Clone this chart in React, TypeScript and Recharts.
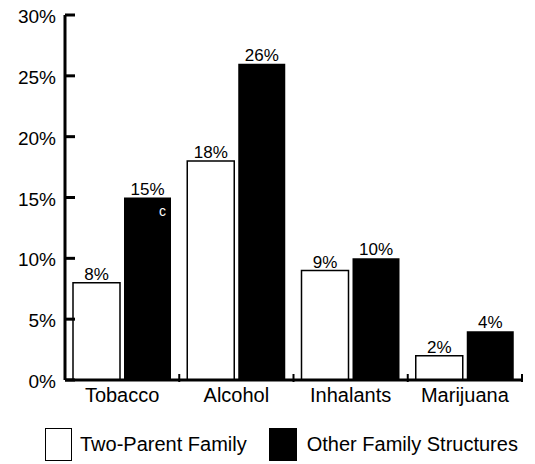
import React from "react";
import { BarChart, Bar, XAxis, YAxis, Legend, LabelList } from "recharts";

const substances = ["Tobacco", "Alcohol", "Inhalants", "Marijuana"];
const twoParent = [8, 18, 9, 2];
const otherFamily = [15, 26, 10, 4];
const otherNotes = ["c", "", "", ""];
const yTicks = [0, 5, 10, 15, 20, 25, 30];

const data = substances.map((name, i) => ({
  name,
  twoParent: twoParent[i],
  other: otherFamily[i],
  note: otherNotes[i],
}));

const FONT = "'Liberation Sans', Arial, Helvetica, sans-serif";

const YTick = (props: any) => {
  const { x, y, payload } = props;
  return (
    <g>
      <line x1={x} x2={x + 10} y1={y} y2={y} stroke="#000" strokeWidth={3} />
      <text x={x - 9} y={y} dy={8} textAnchor="end" fontSize={19} fill="#000" fontFamily={FONT}>
        {payload.value}%
      </text>
    </g>
  );
};

const XTick = (props: any) => {
  const { x, y, payload } = props;
  const half = payload.offset || 57;
  return (
    <g>
      <line x1={x + half} x2={x + half} y1={y - 6} y2={y - 14} stroke="#000" strokeWidth={2} />
      <text x={x} y={y + 14} textAnchor="middle" fontSize={20} fill="#000" fontFamily={FONT}>
        {payload.value}
      </text>
    </g>
  );
};

const NoteLabel = (props: any) => {
  const { x, y, width, value } = props;
  if (!value) return null;
  return (
    <text x={x + width - 5} y={y + 18} textAnchor="end" fontSize={14} fill="#fff" fontFamily={FONT}>
      {value}
    </text>
  );
};

const LegendContent = () => (
  <div
    style={{
      display: "flex",
      alignItems: "center",
      fontFamily: FONT,
      fontSize: 20,
      color: "#000",
      paddingLeft: 45,
      paddingTop: 18,
    }}
  >
    <span style={{ width: 25, height: 31, border: "1.5px solid #000", background: "#fff", display: "inline-block" }} />
    <span style={{ marginLeft: 8, marginRight: 22 }}>Two-Parent Family</span>
    <span style={{ width: 28, height: 33, background: "#000", display: "inline-block" }} />
    <span style={{ marginLeft: 10 }}>Other Family Structures</span>
  </div>
);

export default function App() {
  return (
    <div style={{ position: "absolute", left: 0, top: 0, width: 535, height: 464, background: "#fff" }}>
      <BarChart
        width={535}
        height={464}
        data={data}
        margin={{ top: 15, right: 13, left: 0, bottom: 0 }}
        barCategoryGap={8}
        barGap={4}
      >
        <XAxis
          dataKey="name"
          stroke="#000"
          strokeWidth={3}
          tickLine={false}
          tick={<XTick />}
          height={30}
          interval={0}
        />
        <YAxis
          domain={[0, 30]}
          ticks={yTicks}
          width={65}
          stroke="#000"
          strokeWidth={3}
          tickLine={false}
          tickSize={0}
          tickMargin={0}
          tick={<YTick />}
          interval={0}
        />
        <Legend verticalAlign="bottom" height={54} content={<LegendContent />} />
        <Bar dataKey="twoParent" fill="#fff" stroke="#000" strokeWidth={1.5} isAnimationActive={false}>
          <LabelList dataKey="twoParent" position="top" offset={3} formatter={(v: any) => `${v}%`} fill="#000" fontSize={17} fontFamily={FONT} />
        </Bar>
        <Bar dataKey="other" fill="#000" isAnimationActive={false}>
          <LabelList dataKey="other" position="top" offset={3} formatter={(v: any) => `${v}%`} fill="#000" fontSize={17} fontFamily={FONT} />
          <LabelList dataKey="note" content={<NoteLabel />} />
        </Bar>
      </BarChart>
    </div>
  );
}
